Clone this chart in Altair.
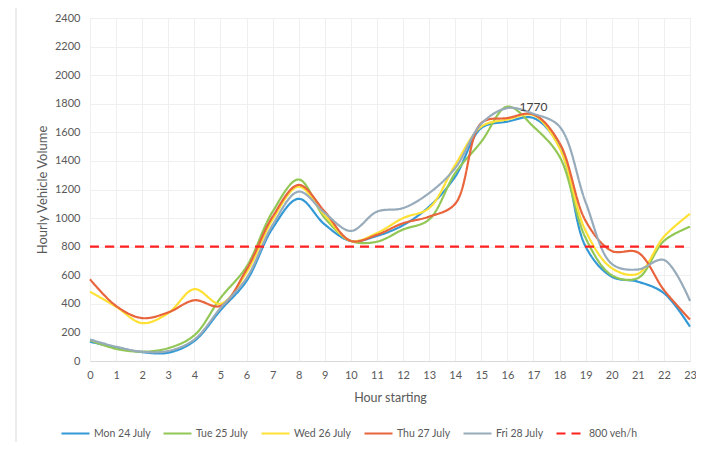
import altair as alt
import pandas as pd

hours = list(range(24))
series_names = ["Mon 24 July", "Tue 25 July", "Wed 26 July", "Thu 27 July", "Fri 28 July", "800 veh/h"]
mon = [135, 95, 62, 58, 140, 355, 560, 930, 1135, 955, 840, 875, 950, 1080, 1290, 1630, 1675, 1700, 1500, 800, 590, 555, 475, 240]
tue = [145, 85, 65, 90, 180, 440, 660, 1045, 1270, 1000, 840, 835, 920, 990, 1315, 1535, 1780, 1640, 1430, 860, 600, 580, 840, 940]
wed = [485, 380, 265, 335, 503, 400, 620, 990, 1220, 1020, 840, 895, 1000, 1070, 1372, 1640, 1690, 1720, 1490, 910, 650, 610, 870, 1030]
thu = [572, 385, 300, 340, 425, 385, 640, 1010, 1232, 1045, 840, 883, 964, 1010, 1100, 1665, 1700, 1725, 1525, 980, 770, 760, 497, 290]
fri = [150, 100, 65, 70, 150, 370, 580, 952, 1185, 1035, 910, 1045, 1070, 1175, 1350, 1660, 1770, 1730, 1640, 1110, 680, 640, 707, 420]
threshold = [800] * 24
colors = ["#3399D6", "#92C755", "#FFE135", "#E8643C", "#97ABBA", "#FF2020"]
y_ticks = list(range(0, 2401, 200))
label_hour = [17]
label_value = [1770]
label_text = ["1770"]

rows = []
for name, vals in zip(series_names, [mon, tue, wed, thu, fri, threshold]):
    for h, v in zip(hours, vals):
        rows.append({"hour": h, "volume": v, "series": name})
df = pd.DataFrame(rows)

font = "Lato"
grey = "#595959"

legend_opts = dict(title=None, orient="none", legendX=-30, legendY=400,
                   direction="horizontal", columns=6, symbolType="stroke",
                   symbolSize=784, symbolStrokeWidth=2.5, labelFontSize=10.5,
                   labelColor=grey, labelFont=font, columnPadding=8,
                   labelOffset=3, padding=0)

x_enc = alt.X("hour:Q", scale=alt.Scale(domain=[0, 23], nice=False),
              axis=alt.Axis(values=hours, format="d", title="Hour starting", grid=True, gridColor="#EFEFEF",
                            domainColor="#D9D9D9", ticks=False, labelPadding=8, labelFontSize=11,
                            labelOverlap=False, labelFlush=False,
                            labelColor=grey, titleColor=grey, titleFontSize=12.5, titleFontWeight="normal",
                            titlePadding=11, labelFont=font, titleFont=font))
y_enc = alt.Y("volume:Q", scale=alt.Scale(domain=[0, 2400], nice=False),
              axis=alt.Axis(values=y_ticks, format="d", title="Hourly Vehicle Volume", grid=True, gridColor="#EFEFEF",
                            domain=False, ticks=False, labelPadding=10, labelFontSize=11,
                            labelOverlap=False, labelFlush=False,
                            labelColor=grey, titleColor=grey, titleFontSize=13, titleFontWeight="normal",
                            titlePadding=5, labelFont=font, titleFont=font))

lines = alt.Chart(df).mark_line(interpolate="catmull-rom").encode(
    x=x_enc,
    y=y_enc,
    color=alt.Color("series:N", scale=alt.Scale(domain=series_names, range=colors),
                    sort=series_names, legend=alt.Legend(**legend_opts)),
    strokeDash=alt.StrokeDash("series:N", scale=alt.Scale(domain=series_names,
                              range=[[1, 0], [1, 0], [1, 0], [1, 0], [1, 0], [9, 6]]),
                              sort=series_names, legend=alt.Legend(**legend_opts)),
    strokeWidth=alt.StrokeWidth("series:N", scale=alt.Scale(domain=series_names,
                                range=[2.2, 2.2, 2.2, 2.2, 2.2, 3]), legend=None),
    order=alt.Order("hour:Q"),
)

lbl_df = pd.DataFrame({"hour": label_hour, "volume": label_value, "text": label_text})
label = alt.Chart(lbl_df).mark_text(fontSize=12, color="#404040", font=font, dy=-1).encode(
    x=x_enc, y=y_enc, text="text:N")

frame = alt.Chart(pd.DataFrame({"a": [0]})).mark_rule(color="#D9D9D9", strokeWidth=1).encode(
    x=alt.value(-74), y=alt.value(-10), y2=alt.value(424))

chart = alt.layer(frame, lines, label).properties(
    width=600, height=343,
    autosize=alt.AutoSizeParams(type="none"),
    padding={"left": 82, "top": 10, "right": 6, "bottom": 81},
).configure_view(stroke=None).configure(background="white")

chart.save("out.html", embed_options={"renderer": "svg", "actions": False})
